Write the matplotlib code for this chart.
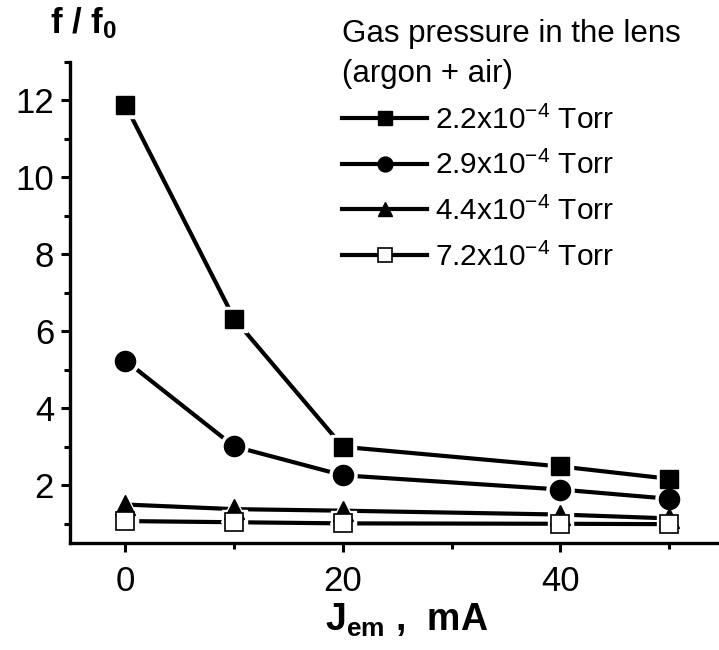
import matplotlib
matplotlib.use("Agg")
import matplotlib.pyplot as plt
from matplotlib.lines import Line2D
from matplotlib.ticker import FixedLocator

plt.rcParams["font.family"] = ["Liberation Sans", "DejaVu Sans"]
plt.rcParams["mathtext.fontset"] = "custom"
plt.rcParams["mathtext.rm"] = "Liberation Sans"
plt.rcParams["mathtext.it"] = "Liberation Sans:italic"
plt.rcParams["mathtext.bf"] = "Liberation Sans:bold"

# Emission current, mA
current = [0, 10, 20, 40, 50]

# Focal length ratio f/f0 for each gas pressure
ratio_22 = [11.88, 6.33, 3.00, 2.49, 2.17]
ratio_29 = [5.24, 3.01, 2.26, 1.89, 1.65]
ratio_44 = [1.50, 1.38, 1.34, 1.24, 1.14]
ratio_72 = [1.07, 1.04, 1.01, 1.00, 0.99]

labels = [r"2.2x10$^{-4}$ Torr", r"2.9x10$^{-4}$ Torr",
          r"4.4x10$^{-4}$ Torr", r"7.2x10$^{-4}$ Torr"]
legend_title = "Gas pressure in the lens\n(argon + air)"

series = [ratio_22, ratio_29, ratio_44, ratio_72]
markers = ["s", "o", "^", "s"]
sizes = [13, 14.5, 14, 13]
faces = ["black", "black", "black", "white"]
edge_w = [1.0, 1.0, 1.0, 1.2]

fig = plt.figure(figsize=(7.19, 6.5), dpi=100)
ax = fig.add_axes([0.0974, 0.1646, 0.9026, 0.74])

for ys, m, s, fc, ew in zip(series, markers, sizes, faces, edge_w):
    ax.plot(current, ys, "-", color="black", lw=3.0, zorder=2,
            solid_capstyle="round")
    # white halo leaves a small gap between the line and each symbol
    ax.plot(current, ys, linestyle="none", marker=m, ms=s + 5,
            mfc="white", mec="white", zorder=3)
    ax.plot(current, ys, linestyle="none", marker=m, ms=s,
            mfc=fc, mec="black", mew=ew, zorder=4)

ax.set_xlim(-5.1, 54.6)
ax.set_ylim(0.5, 13.0)

ax.xaxis.set_major_locator(FixedLocator([0, 20, 40]))
ax.xaxis.set_minor_locator(FixedLocator([10, 30, 50]))
ax.yaxis.set_major_locator(FixedLocator([2, 4, 6, 8, 10, 12]))
ax.yaxis.set_minor_locator(FixedLocator([1, 3, 5, 7, 9, 11, 13]))

for side in ("top", "right"):
    ax.spines[side].set_visible(False)
for side in ("left", "bottom"):
    ax.spines[side].set_linewidth(2.4)

ax.tick_params(which="major", direction="out", length=6.5, width=2.2,
               labelsize=25)
ax.tick_params(axis="x", which="major", pad=9)
ax.tick_params(axis="y", which="major", pad=5)
ax.tick_params(which="minor", direction="out", length=4, width=2.2)

fig.text(0.069, 0.964, r"f / f$_{\mathbf{0}}$", fontsize=25,
         fontweight="bold", ha="left", va="center")
fig.text(0.452, 0.046, r"J$_{\mathbf{em}}$ ,  mA", fontsize=27,
         fontweight="bold", ha="left", va="center")

handles = [Line2D([], [], color="black", lw=3.0, marker=m, ms=s * 0.74,
                  mfc=fc, mec="black", mew=ew)
           for m, s, fc, ew in zip(markers, sizes, faces, edge_w)]
leg = ax.legend(handles, labels, title=legend_title, loc="upper left",
                bbox_to_anchor=(0.419, 1.09), frameon=False, fontsize=21.5,
                title_fontsize=22.5, alignment="left", handlelength=2.85,
                handletextpad=0.28, labelspacing=0.55, borderaxespad=0,
                borderpad=0)
leg.get_title().set_linespacing(1.45)

fig.savefig("out.png", dpi=100)
